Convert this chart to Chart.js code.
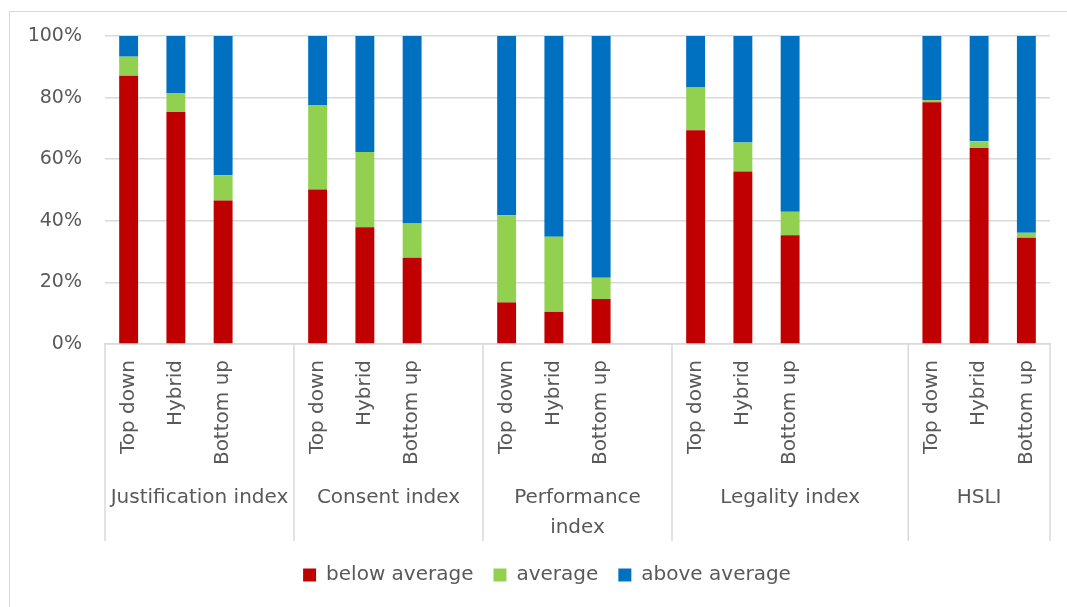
<!DOCTYPE html>
<html>
<head>
<meta charset="utf-8">
<title>Index scores by approach</title>
<script src="https://cdn.jsdelivr.net/npm/chart.js@4/dist/chart.umd.min.js"></script>
<style>
  html, body { margin: 0; padding: 0; background: #ffffff; }
  #wrap { position: relative; width: 1067px; height: 607px; overflow: hidden; }
  #frame { position: absolute; left: 9px; top: 11px; width: 1120px; height: 700px;
           border: 1.5px solid #d9d9d9; box-sizing: border-box; }
  #chart { position: absolute; left: 0; top: 0; }
</style>
</head>
<body>
<div id="wrap">
  <div id="frame"></div>
  <canvas id="chart" width="1067" height="607"></canvas>
</div>
<script>
// Index groups (outer axis level) and approaches (inner axis level)
const groups = ['Justification index', 'Consent index', ['Performance', 'index'], 'Legality index', 'HSLI'];
const approaches = ['Top down', 'Hybrid', 'Bottom up'];
// empty category slots that follow each group
const spacerSlots = [1, 1, 1, 2, 0];

// Share of cases (%) per group × approach, in group order
const belowAverage = [87.1, 75.3, 46.6, 50.2, 37.9, 28.0, 13.5, 10.4, 14.6, 69.4, 56.0, 35.3, 78.5, 63.6, 34.5];
const average      = [ 6.2,  6.2,  8.2, 27.4, 24.4, 11.1, 28.3, 24.4,  6.9, 13.9,  9.4,  7.6,  0.7,  2.2,  1.6];
const aboveAverage = [ 6.7, 18.5, 45.2, 22.4, 37.7, 60.9, 58.2, 65.2, 78.5, 16.7, 34.6, 57.1, 20.8, 34.2, 63.9];

const yTicks = [0, 20, 40, 60, 80, 100];

const TEXT = '#595959';
const GRID = '#d9d9d9';
const FONT = "'DejaVu Sans', sans-serif";
const PAD_BOTTOM = 12;
const PLOT_BOTTOM = 344;

// Expand the grouped series into one flat category list with spacer slots
const labels = [];
const slotOf = [];
groups.forEach((g, gi) => {
  approaches.forEach((a) => {
    slotOf.push(labels.length);
    labels.push(a);
  });
  for (let k = 0; k < spacerSlots[gi]; k++) labels.push('');
});
function expand(values) {
  const out = labels.map(() => null);
  values.forEach((v, i) => { out[slotOf[i]] = v; });
  return out;
}

// Draws the outer category level: group names and the dividers between groups
const groupAxis = {
  id: 'groupAxis',
  afterDraw(chart) {
    const x = chart.scales.x;
    const area = chart.chartArea;
    const ctx = chart.ctx;
    const step = x.getPixelForValue(1) - x.getPixelForValue(0);
    const lineBottom = area.bottom + 197;
    ctx.save();
    ctx.strokeStyle = GRID;
    ctx.lineWidth = 1.5;
    ctx.fillStyle = TEXT;
    ctx.font = '20px ' + FONT;
    ctx.textAlign = 'center';
    ctx.textBaseline = 'middle';
    let slot = 0;
    const edges = [];
    groups.forEach((g, gi) => {
      const span = approaches.length + spacerSlots[gi];
      const left = x.getPixelForValue(slot) - step / 2;
      const right = x.getPixelForValue(slot + span - 1) + step / 2;
      if (gi === 0) edges.push(left);
      edges.push(right);
      const lines = Array.isArray(g) ? g : [g];
      lines.forEach((ln, k) => ctx.fillText(ln, (left + right) / 2, area.bottom + 154 + k * 30));
      slot += span;
    });
    edges.forEach(e => {
      ctx.beginPath();
      ctx.moveTo(e, area.bottom);
      ctx.lineTo(e, lineBottom);
      ctx.stroke();
    });
    ctx.restore();
  }
};

new Chart(document.getElementById('chart'), {
  type: 'bar',
  data: {
    labels: labels,
    datasets: [
      { label: 'below average', data: expand(belowAverage), backgroundColor: '#C00000' },
      { label: 'average',       data: expand(average),      backgroundColor: '#92D050' },
      { label: 'above average', data: expand(aboveAverage), backgroundColor: '#0070C0' }
    ]
  },
  options: {
    responsive: false,
    animation: false,
    layout: { padding: { left: 27, right: 0, top: 36, bottom: PAD_BOTTOM } },
    datasets: { bar: { categoryPercentage: 1, barPercentage: 0.4 } },
    scales: {
      x: {
        stacked: true,
        grid: { display: false, drawTicks: false },
        border: { display: true, color: GRID, width: 1.5 },
        ticks: {
          autoSkip: false, minRotation: 90, maxRotation: 90, padding: 16,
          color: TEXT, font: { family: FONT, size: 20 }
        },
        afterFit(scale) {
          const lg = scale.chart.legend ? scale.chart.legend.height : 50;
          scale.height = 607 - PAD_BOTTOM - lg - PLOT_BOTTOM;
        }
      },
      y: {
        stacked: true,
        min: yTicks[0],
        max: yTicks[yTicks.length - 1],
        afterBuildTicks(scale) { scale.ticks = yTicks.map(v => ({ value: v })); },
        ticks: {
          padding: 23, color: TEXT, font: { family: FONT, size: 19 },
          callback: v => v + '%'
        },
        grid: { color: GRID, lineWidth: 1.5, drawTicks: false },
        border: { display: false },
        afterFit(scale) { scale.width = 78; }
      },
      // empty right-hand margin axis
      yRight: {
        type: 'linear',
        position: 'right',
        grid: { display: false, drawTicks: false },
        ticks: { display: false },
        border: { display: false },
        afterFit(scale) { scale.width = 17; }
      }
    },
    plugins: {
      legend: {
        position: 'bottom',
        labels: {
          boxWidth: 13, boxHeight: 13, padding: 20,
          color: TEXT, font: { family: FONT, size: 20 }
        }
      },
      tooltip: { enabled: false }
    }
  },
  plugins: [groupAxis]
});
</script>
</body>
</html>
